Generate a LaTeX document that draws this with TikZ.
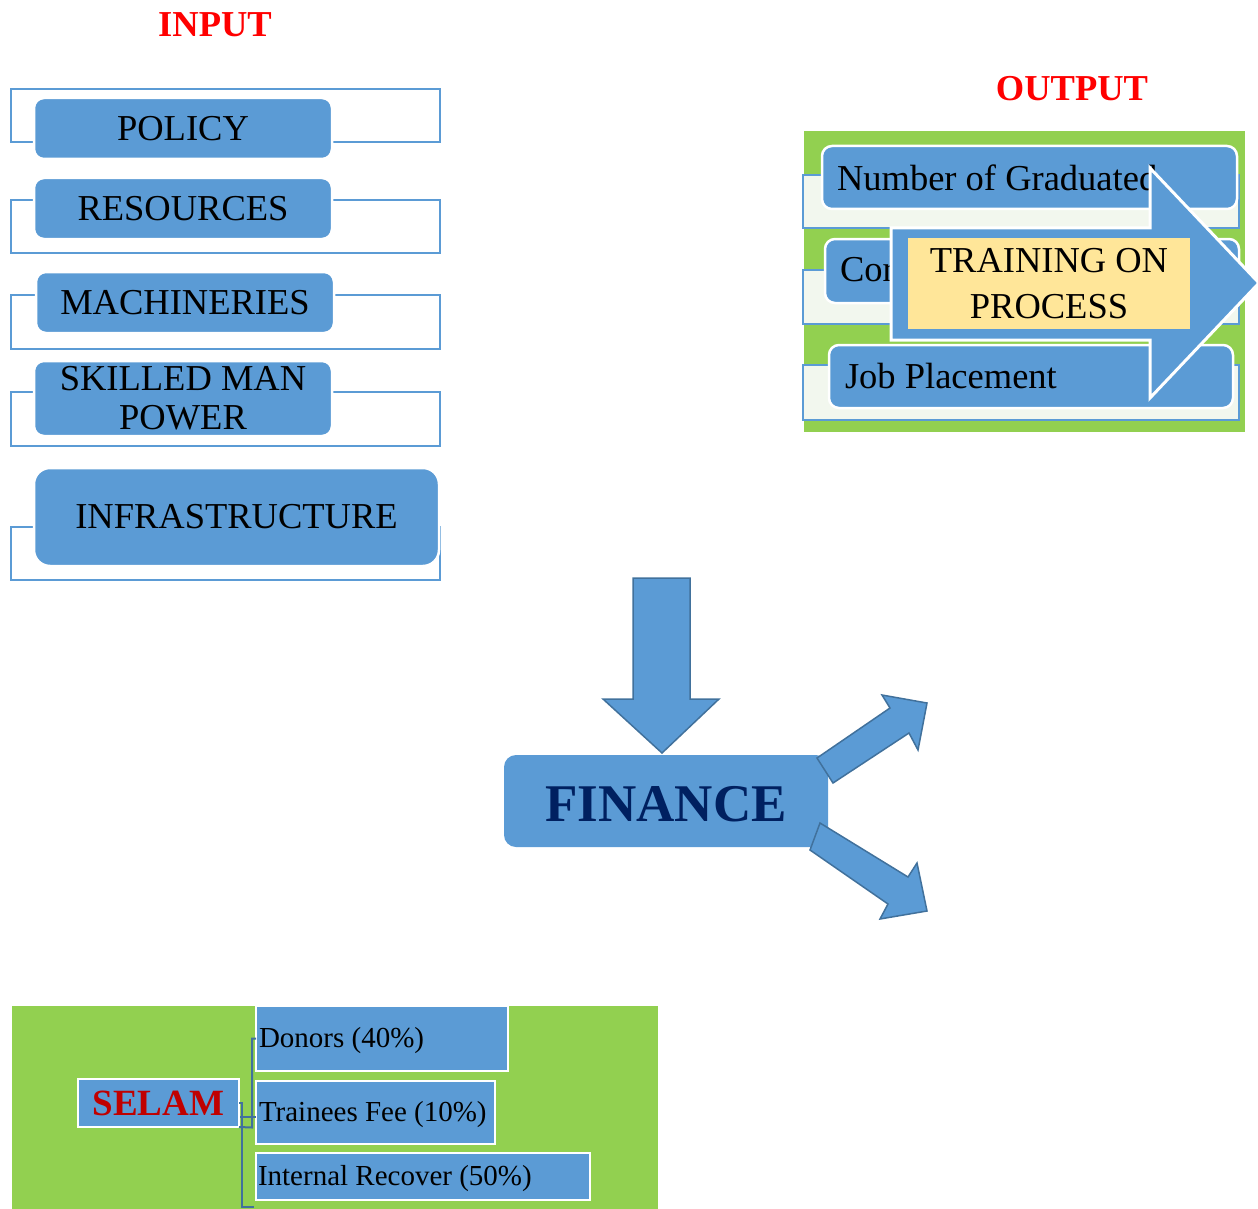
\documentclass[tikz,border=0pt]{standalone}
\usepackage{fontspec}
\setmainfont{Liberation Serif}
\usetikzlibrary{calc}
\definecolor{boxblue}{HTML}{5B9BD5}
\definecolor{edgeblue}{HTML}{41719C}
\definecolor{leafgreen}{HTML}{92D050}
\definecolor{paleleaf}{HTML}{F2F7EE}
\definecolor{sand}{HTML}{FFE699}
\definecolor{navy}{HTML}{002060}
\definecolor{darkred}{HTML}{C00000}
\begin{document}
\begin{tikzpicture}[x=1pt,y=-1pt,
  every node/.style={inner sep=0pt, outer sep=0pt},
  frame/.style={draw=boxblue, line width=2pt},
  rowframe/.style={draw=boxblue, fill=paleleaf, line width=2pt},
  pill/.style={fill=boxblue, draw=white, line width=2.5pt, rounded corners=10pt},
  tag/.style={fill=boxblue, draw=white, line width=2.5pt},
  big/.style={font=\fontsize{36.5}{39}\selectfont},
  small/.style={font=\fontsize{29}{32}\selectfont},
  heading/.style={font=\fontsize{36.5}{40}\selectfont\bfseries, text=red},
  blockarrow/.style={fill=boxblue, draw=edgeblue, line width=1.5pt, line join=miter},
  link/.style={draw=edgeblue, line width=2pt}]
\useasboundingbox (0,0) rectangle (1258,1209);

% ---------- headings ----------
\node[heading] (inputtitle) at (215,25) {INPUT};
\node[heading] (outputtitle) at (1072,89) {OUTPUT};

% ---------- input column ----------
\draw[frame] (11,89) rectangle (440,142);
\draw[frame] (11,200) rectangle (440,253);
\draw[frame] (11,295) rectangle (440,349);
\draw[frame] (11,392) rectangle (440,446);
\draw[frame] (11,527) rectangle (440,580);

\node[pill, big, minimum width=298pt, minimum height=61pt] (policy) at (183,128.5) {POLICY};
\node[pill, big, minimum width=298pt, minimum height=61pt] (resources) at (183,208.5) {RESOURCES};
\node[pill, big, minimum width=298pt, minimum height=61pt] (machines) at (185,302.5) {MACHINERIES};
\node[pill, big, minimum width=298pt, minimum height=75pt, align=center] (manpower) at (183,398.5) {SKILLED MAN\\POWER};
\node[pill, big, rounded corners=16pt, minimum width=405pt, minimum height=98pt] (infra) at (236.5,517) {INFRASTRUCTURE};

% ---------- output panel ----------
\fill[leafgreen] (804,131) rectangle (1245,432);
\draw[rowframe] (803,175) rectangle (1239,228);
\draw[rowframe] (803,270) rectangle (1239,324);
\draw[rowframe] (803,365) rectangle (1239,420);

\node[pill, minimum width=415pt, minimum height=63pt] (graduated) at (1029.5,177.5) {};
\node[big, anchor=west] at (837,178) {Number of Graduated};
\node[pill, minimum width=414pt, minimum height=64pt] (competence) at (1032,271) {};
\node[big, anchor=west] at (840,270) {Cor};
\node[pill, minimum width=404pt, minimum height=63pt] (placement) at (1031,376.5) {};
\node[big, anchor=west] at (845,376) {Job Placement};

% training arrow across the output rows
\draw[fill=boxblue, draw=white, line width=3pt, line join=miter]
  (891,228) -- (1150,228) -- (1150,168) -- (1259,283) -- (1150,398)
  -- (1150,340) -- (891,340) -- cycle;
\node[fill=sand, minimum width=282pt, minimum height=91pt] (training) at (1049,283.5) {};
\node[font=\fontsize{36.5}{46}\selectfont, align=center] at (1049,284) {TRAINING ON\\PROCESS};

% ---------- finance ----------
\draw[blockarrow] (633,578) -- (690,578) -- (690,699) -- (719,699) -- (662,753)
  -- (603,699) -- (633,699) -- cycle;
\node[fill=boxblue, rounded corners=12pt, minimum width=324pt, minimum height=92pt] (finance) at (666,801) {};
\node[font=\fontsize{53}{58}\selectfont\bfseries, text=navy] at (666,804) {FINANCE};
\draw[blockarrow] (817,758) -- (890,708) -- (882,695) -- (927,703) -- (918,750)
  -- (909,733) -- (833,783) -- cycle;
\draw[blockarrow] (820,823) -- (908,877) -- (917,863) -- (927,911) -- (880,919)
  -- (888,904) -- (810,850) -- cycle;

% ---------- funding sources ----------
\fill[leafgreen] (12,1006) rectangle (658,1209);
\node[tag, minimum width=161pt, minimum height=48pt,
  font=\fontsize{37}{40}\selectfont\bfseries, text=darkred] (selam) at (158.5,1103) {SELAM};
\node[tag, minimum width=252pt, minimum height=65pt] (donors) at (382,1038.5) {};
\node[small, anchor=west] at (259,1041) {Donors (40\%)};
\node[tag, minimum width=239pt, minimum height=63pt] (fee) at (375.5,1112.5) {};
\node[small, anchor=west] at (259,1115) {Trainees Fee (10\%)};
\node[tag, minimum width=334pt, minimum height=47pt] (internal) at (423,1176.5) {};
\node[small, anchor=west] at (258,1179) {Internal Recover (50\%)};

\draw[link] (donors.west) -- ++(-4,0) -- ++(0,89) -- (selam.south east);
\draw[link] (fee.west) ++(0,4.5) -- ++(-16,0);
\draw[link] (selam.east) -- ++(3,0) |- ($(internal.south west)+(-2,7)$);
\end{tikzpicture}
\end{document}
